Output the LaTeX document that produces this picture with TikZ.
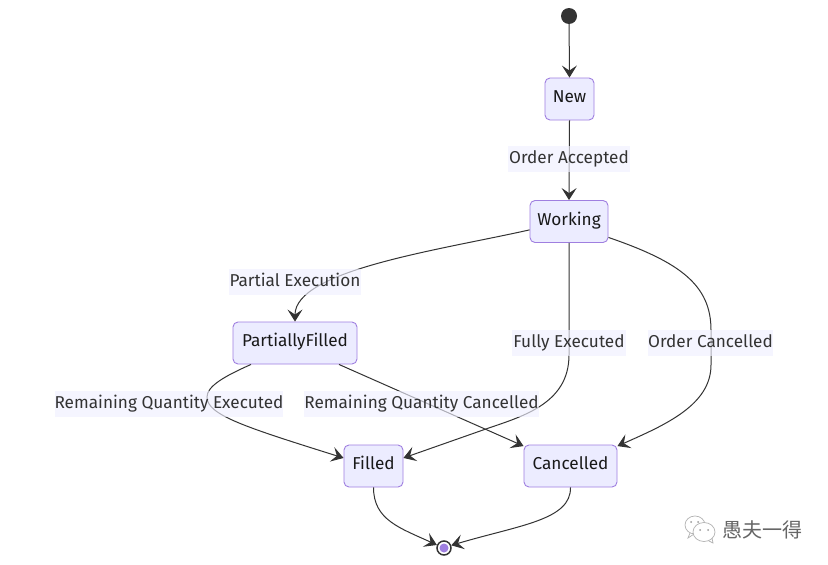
\documentclass[tikz,border=0pt]{standalone}
\usepackage{fontspec}
\setmainfont{Fira Sans}
\newfontfamily\cjkfont{Noto Sans CJK SC}
\usetikzlibrary{arrows.meta}
\definecolor{nodefill}{HTML}{ECECFF}
\definecolor{nodeline}{HTML}{9F7FE0}
\definecolor{ink}{HTML}{333333}
\definecolor{labelfill}{HTML}{F0F0FF}
\tikzset{
  statebox/.style={draw=nodeline,fill=nodefill,rounded corners=5pt,line width=0.9pt,text=black!90,font=\fontsize{17.2}{19}\selectfont,inner sep=0pt,minimum height=42pt,text height=11pt,text depth=5pt},
  edgelabel/.style={fill=labelfill,fill opacity=0.65,text opacity=1,text=ink,font=\fontsize{17.2}{19}\selectfont,inner sep=0pt,minimum height=26pt,text height=12.5pt,text depth=3.5pt},
  edge/.style={draw=ink,line width=1pt,-{Stealth[length=12pt,width=15pt,inset=5pt]}},
}
\begin{document}
\begin{tikzpicture}[x=1pt,y=-1pt]
\useasboundingbox[fill=white] (0,0) rectangle (828,565);
% states
\node[circle,fill=ink,inner sep=0pt,minimum size=16pt] (start) at (569,16) {};
\node[statebox,minimum width=49pt] (new) at (569.5,99) {New};
\node[statebox,minimum width=78pt] (working) at (569,221.5) {\raisebox{-1pt}{Working}};
\node[statebox,minimum width=124pt] (partial) at (295,343) {PartiallyFilled};
\node[statebox,minimum width=59pt] (filled) at (373.5,466) {Filled};
\node[statebox,minimum width=93pt] (cancelled) at (570.5,466) {Cancelled};
\node[circle,draw=ink,fill=white,line width=1.5pt,inner sep=0pt,minimum size=14pt] (end) at (444,548) {};
\node[circle,fill=nodeline,inner sep=0pt,minimum size=9pt] (endcore) at (end) {};
% connectors
\draw[edge] (start) -- (new.north);
\draw[edge] (new.south) -- (working.north);
\draw[edge] (working.192.3) .. controls (440,250) and (295,270) .. (partial.north);
\draw[edge] (working.south) -- (569,355) .. controls (569,405) and (520,417) .. (483,430) -- (filled.15.2);
\draw[edge] (working.338.3) .. controls (680,262) and (711,285) .. (711,330) -- (711,365) .. controls (711,405) and (665,425) .. (cancelled.23.7);
\draw[edge] (partial.206) .. controls (225,376) and (207,386) .. (207,397) .. controls (207,415) and (245,427) .. (filled.165.3);
\draw[edge] (partial.334) -- (cancelled.157.3);
\draw[edge] (filled.south) .. controls (373.5,520) and (400,528) .. (end.157);
\draw[edge] (cancelled.south) .. controls (571,520) and (520,525) .. (end.20);
% labels
\node[edgelabel,minimum width=122pt] (l1) at (569,158.5) {Order Accepted};
\node[edgelabel,minimum width=132pt] (l2) at (295,282) {Partial Execution};
\node[edgelabel,minimum width=114pt] (l3) at (569,343) {Fully Executed};
\node[edgelabel,minimum width=125pt] (l4) at (710.5,343) {Order Cancelled};
\node[edgelabel,minimum width=228pt] (l5) at (169,404) {Remaining Quantity Executed};
\node[edgelabel,minimum width=233pt] (l6) at (421.5,404) {Remaining Quantity Cancelled};
% watermark
\begin{scope}[draw=black!30,line width=0.7pt]
  \draw[fill=white] (695,525) ellipse (10pt and 9pt);
  \draw (690,533) -- (688,538) -- (694,534);
  \draw[fill=white] (704,532) ellipse (11pt and 9.5pt);
  \draw (709,541) -- (713,543) -- (712,538);
  \fill[black!40] (700,530) circle (1pt) (708,530) circle (1pt);
  \fill[black!40] (691,522) circle (1pt) (698,522) circle (1pt);
\end{scope}
\node[text=black!60,font=\cjkfont\fontsize{20}{22}\selectfont,inner sep=0pt] (mark) at (762.5,530) {愚夫一得};
\end{tikzpicture}
\end{document}
